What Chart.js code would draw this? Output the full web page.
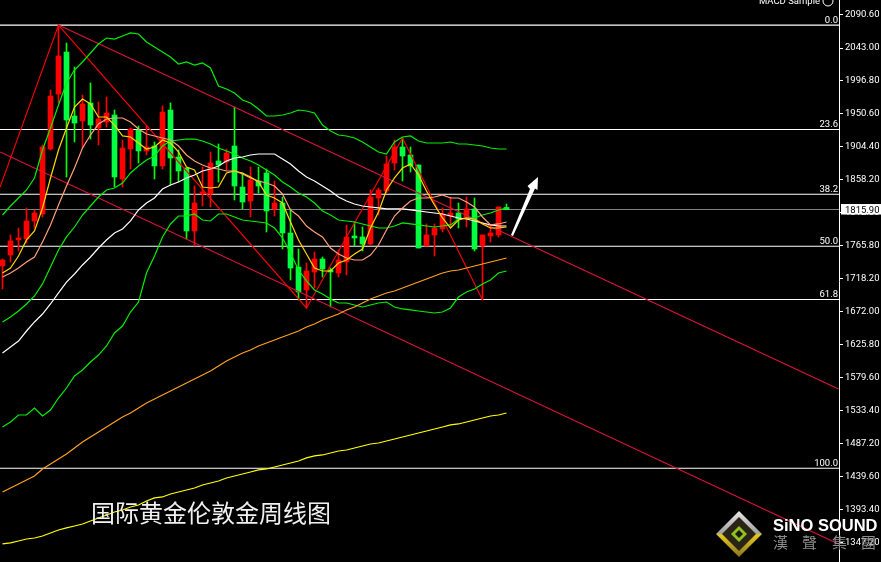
<!DOCTYPE html>
<html>
<head>
<meta charset="utf-8">
<style>
  html, body { margin: 0; padding: 0; background: #000; overflow: hidden; }
  canvas { display: block; }
</style>
<script src="https://cdn.jsdelivr.net/npm/chart.js@4/dist/chart.umd.min.js"></script>
</head>
<body>
<canvas id="goldChart" width="881" height="562"></canvas>
<script>
// weekly candles, one per bar index
let opens = [1736.5,1752.0,1773.1,1774.5,1799.8,1809.7,1901.1,1978.4,2037.5,1947.5,1940.5,1965.8,1930.6,1939.1,1948.9,1858.9,1901.1,1927.8,1898.3,1905.3,1877.2,1955.9,1889.8,1874.3,1785.7,1837.8,1837.8,1884.2,1882.8,1905.3,1847.6,1827.9,1856.1,1867.3,1816.7,1825.1,1782.9,1735.0,1702.7,1728.0,1746.3,1730.8,1726.6,1742.1,1778.7,1777.3,1767.4,1832.1,1842.0,1881.4,1903.9,1892.6,1878.6,1764.6,1780.1,1788.5,1806.8,1811.0,1804.0,1816.7,1764.6,1778.7,1780.1,1818.8];
let closes = [1744.9,1771.7,1775.9,1799.8,1811.0,1903.9,1975.6,2031.9,1941.9,1937.6,1964.4,1934.8,1943.3,1951.7,1861.7,1902.5,1929.2,1898.3,1903.9,1877.2,1953.1,1888.4,1870.1,1785.7,1825.1,1840.6,1881.4,1878.6,1895.4,1849.0,1826.5,1857.5,1849.0,1813.9,1825.1,1782.9,1733.6,1699.9,1729.4,1746.3,1732.2,1728.0,1744.9,1777.3,1775.9,1767.4,1833.5,1843.4,1880.0,1903.9,1891.2,1877.2,1761.8,1780.1,1789.9,1809.6,1811.0,1802.6,1816.7,1760.4,1780.1,1782.9,1819.5,1815.9];
let highs = [1746.3,1780.1,1789.9,1818.1,1815.3,1906.7,1984.1,2075.5,2050.2,2016.4,1977.0,1993.9,1967.2,1974.2,1955.9,1913.7,1930.6,1933.4,1933.4,1910.9,1961.6,1965.8,1899.7,1874.3,1849.0,1875.7,1896.9,1908.1,1901.1,1960.2,1867.3,1875.7,1875.7,1872.9,1856.1,1833.5,1816.7,1760.4,1740.7,1756.2,1749.1,1733.6,1759.0,1794.1,1798.4,1791.3,1843.4,1846.2,1891.2,1913.7,1916.5,1903.9,1878.6,1795.6,1795.6,1818.1,1833.5,1825.1,1833.5,1832.1,1780.1,1794.1,1819.5,1823.7];
let lows = [1704.1,1742.1,1757.6,1768.8,1789.9,1805.4,1899.7,1965.8,1861.7,1910.9,1902.5,1915.1,1906.7,1932.0,1847.6,1847.6,1872.9,1881.4,1892.6,1858.9,1872.9,1850.4,1854.6,1774.5,1764.6,1820.9,1819.5,1854.6,1871.5,1829.3,1816.7,1805.4,1839.2,1784.3,1806.8,1760.4,1716.8,1688.6,1677.4,1705.5,1720.9,1678.8,1720.9,1723.8,1764.6,1757.6,1766.0,1808.2,1839.2,1871.5,1856.1,1868.7,1761.8,1764.6,1750.5,1784.3,1791.3,1789.9,1791.3,1757.6,1688.6,1770.2,1777.3,1815.9];

// bollinger bands
let bandUpper = [1808.2,1820.9,1832.1,1843.4,1860.3,1899.7,1930.6,1963.0,1993.9,2012.2,2023.5,2036.1,2048.8,2057.2,2055.8,2060.1,2064.3,2062.9,2051.6,2044.6,2037.5,2030.5,2020.7,2023.5,2019.2,2022.1,2015.0,1989.7,1985.5,1979.9,1970.0,1965.8,1957.3,1947.5,1947.5,1948.9,1951.7,1955.9,1954.5,1951.7,1934.8,1926.4,1920.8,1919.4,1916.6,1910.9,1903.9,1896.9,1894.0,1910.9,1918.0,1919.4,1912.3,1909.5,1909.5,1909.5,1910.9,1908.1,1908.1,1906.7,1905.3,1902.5,1901.1,1901.1];
let bandMiddle = [1657.7,1664.7,1673.1,1683.0,1694.3,1711.2,1735.0,1759.0,1777.3,1791.3,1808.2,1820.9,1833.5,1843.4,1846.2,1853.2,1867.3,1877.2,1885.6,1891.2,1905.3,1912.3,1913.7,1915.1,1915.1,1912.3,1908.1,1902.5,1898.3,1894.0,1888.4,1884.2,1878.6,1871.5,1864.5,1854.6,1847.6,1839.2,1833.5,1825.1,1813.9,1808.2,1801.2,1799.8,1798.4,1795.6,1792.7,1789.9,1789.9,1792.7,1797.0,1795.6,1794.2,1792.7,1791.3,1792.7,1794.2,1802.6,1804.0,1804.0,1808.2,1811.0,1815.3,1818.1];
let bandLower = [1509.9,1517.0,1526.8,1526.8,1536.7,1525.4,1533.9,1550.7,1564.8,1581.7,1590.1,1601.4,1611.2,1623.9,1642.2,1652.0,1671.7,1685.8,1726.6,1750.5,1777.3,1795.6,1806.8,1806.8,1809.6,1801.2,1799.8,1809.6,1809.6,1805.4,1801.2,1799.8,1798.4,1797.0,1789.9,1775.9,1754.8,1730.8,1715.4,1702.7,1697.1,1690.0,1684.4,1684.4,1681.6,1678.8,1681.6,1684.4,1685.8,1678.8,1676.0,1674.6,1673.1,1671.7,1670.3,1671.7,1677.4,1692.8,1699.9,1704.1,1711.2,1716.8,1726.6,1729.4];

// moving averages, fast to slow
let maGold = [1726.6,1733.6,1750.5,1773.1,1785.7,1818.1,1860.3,1899.7,1930.6,1960.2,1971.4,1964.4,1946.1,1946.1,1934.8,1919.4,1918.0,1909.5,1901.1,1903.9,1913.7,1909.5,1896.9,1875.7,1871.5,1847.6,1846.2,1847.6,1867.3,1870.1,1867.3,1861.7,1854.6,1836.4,1832.1,1825.1,1798.4,1773.1,1753.4,1733.6,1729.4,1729.4,1740.7,1744.9,1753.4,1760.4,1789.9,1812.4,1843.4,1860.3,1874.3,1880.0,1864.5,1842.0,1822.3,1804.0,1789.9,1801.2,1804.0,1802.6,1795.6,1789.9,1789.9,1791.3];
let maSalmon = [1721.0,1726.6,1733.6,1742.1,1749.1,1770.2,1794.2,1822.3,1849.0,1874.3,1902.5,1920.8,1936.2,1943.3,1944.7,1944.7,1939.1,1929.2,1922.2,1919.4,1916.6,1913.7,1905.3,1892.6,1884.2,1878.6,1874.3,1872.9,1870.1,1870.1,1865.9,1860.3,1856.1,1853.2,1849.0,1837.8,1815.3,1806.8,1792.7,1784.3,1777.3,1761.8,1753.4,1747.7,1744.9,1744.9,1751.9,1766.0,1787.1,1806.8,1818.1,1827.9,1832.1,1832.1,1833.5,1836.4,1832.1,1832.1,1826.5,1819.5,1805.4,1794.2,1795.6,1798.4];
let maWhite = [1614.1,1622.5,1630.9,1645.0,1657.7,1668.9,1683.0,1698.5,1713.9,1725.2,1737.9,1749.1,1761.8,1773.1,1782.9,1788.5,1799.8,1815.3,1825.1,1832.1,1844.8,1850.4,1854.6,1860.3,1864.5,1870.1,1872.9,1877.2,1884.2,1888.4,1889.8,1892.6,1894.0,1894.0,1894.0,1887.0,1880.0,1870.1,1861.7,1856.1,1849.0,1842.0,1833.5,1827.9,1823.7,1820.9,1819.5,1818.1,1816.7,1816.7,1816.7,1815.3,1813.9,1812.4,1811.0,1809.6,1806.8,1804.0,1802.6,1799.8,1797.0,1794.2,1792.7,1792.7];
let maOrange = [1418.5,1424.1,1429.7,1435.4,1441.0,1450.9,1457.9,1464.9,1472.0,1480.4,1488.8,1495.9,1502.9,1509.9,1517.0,1524.0,1529.6,1536.7,1543.7,1549.3,1555.0,1560.6,1566.2,1571.9,1577.5,1583.1,1588.7,1595.8,1602.8,1608.4,1614.1,1618.3,1623.9,1628.1,1632.4,1636.6,1640.8,1645.0,1650.6,1654.9,1660.5,1664.7,1668.9,1674.6,1678.8,1684.4,1690.0,1694.3,1698.5,1701.3,1705.5,1709.7,1713.9,1718.2,1722.4,1726.6,1729.4,1730.8,1733.6,1736.5,1739.3,1742.1,1744.9,1747.7];
let maYellow = [1345.4,1346.8,1349.6,1352.4,1353.8,1356.6,1360.8,1365.0,1367.9,1370.7,1373.5,1377.7,1381.9,1386.1,1390.4,1393.2,1397.4,1400.2,1405.8,1410.1,1411.5,1415.7,1418.5,1421.3,1424.1,1428.4,1431.2,1434.0,1438.2,1441.0,1443.8,1446.6,1449.5,1450.9,1453.7,1456.5,1459.3,1462.1,1466.4,1469.2,1470.6,1473.4,1476.2,1477.6,1480.4,1483.2,1486.0,1487.4,1490.3,1493.1,1495.9,1498.7,1501.5,1504.3,1507.1,1509.9,1512.8,1514.2,1517.0,1519.8,1522.6,1525.4,1526.8,1529.6];

// zigzag and the two channel lines: bar index, price
let zigzagBars = [-0.3, 7, 38, 50, 60];
let zigzagPrices = [1847.6, 2075.5, 1677.4, 1916.5, 1688.6];
let channelTopBars = [7, 104.5];
let channelTopPrices = [2075.5, 1563.4];
let channelLowBars = [-0.3, 104.5];
let channelLowPrices = [1896.9, 1345.4];

// fibonacci levels
let fibNames = ['0.0', '23.6', '38.2', '50.0', '61.8', '100.0'];
let fibPrices = [2075.3, 1928.6, 1837.3, 1764.2, 1689.4, 1451.8];

let lastPrice = 1815.90;
let tickValues = [2090.60,2043.00,1996.80,1950.60,1904.40,1858.20,1812.00,1765.80,1718.20,1672.00,1625.80,1579.60,1533.40,1487.20,1439.60,1393.40,1347.20];

const XMIN = -0.3125, XMAX = 104.5625;
const RED = '#ff0000', GREEN = '#00ff40', LIME = '#00f000';
const AXIS_FONT = '9.5px Roboto, "Liberation Sans", sans-serif';

let bars = opens.map((o, i) => i);
let candleColors = opens.map((o, i) => closes[i] >= o ? RED : GREEN);
let wickColors = opens.map((o, i) => closes[i] >= o ? RED : '#00ff00');

function lineSet(values, color, order) {
    return {
        type: 'line',
        data: values.map((v, i) => ({x: i, y: v})),
        borderColor: color,
        borderWidth: 1.2,
        pointRadius: 0,
        tension: 0,
        order: order
    };
}

function pathSet(xs, ys, color, order) {
    return {
        type: 'line',
        data: xs.map((x, i) => ({x: x, y: ys[i]})),
        borderColor: color,
        borderWidth: 1.1,
        pointRadius: 0,
        tension: 0,
        order: order
    };
}

let datasets = [];

// levels sit behind the candles
fibPrices.forEach(p => datasets.push(pathSet([XMIN, XMAX], [p, p], '#ffffff', 9)));
datasets.push(pathSet([XMIN, XMAX], [lastPrice, lastPrice], '#808080', 9));

datasets.push({
    type: 'bar',
    data: bars.map(i => ({x: i, y: [lows[i], highs[i]]})),
    backgroundColor: wickColors,
    barThickness: 1,
    grouped: false,
    order: 8
});
datasets.push({
    type: 'bar',
    data: bars.map(i => ({x: i, y: [opens[i], closes[i]]})),
    backgroundColor: candleColors,
    barThickness: 5,
    grouped: false,
    order: 7
});

datasets.push(pathSet(zigzagBars, zigzagPrices, RED, 6));
datasets.push(pathSet(channelTopBars, channelTopPrices, '#dc143c', 6));
datasets.push(pathSet(channelLowBars, channelLowPrices, '#dc143c', 6));

datasets.push(lineSet(bandUpper, LIME, 5));
datasets.push(lineSet(bandMiddle, LIME, 5));
datasets.push(lineSet(bandLower, LIME, 5));
datasets.push(lineSet(maYellow, '#ffff00', 4));
datasets.push(lineSet(maOrange, '#ffa020', 4));
datasets.push(lineSet(maWhite, '#ffffff', 3));
datasets.push(lineSet(maSalmon, '#ffa07a', 2));
datasets.push(lineSet(maGold, '#ffd700', 1));

// fib names, last price box, arrow, caption, logo
const extras = {
    id: 'extras',
    afterDraw(chart) {
        let ctx = chart.ctx;
        let yAxis = chart.scales.y;

        ctx.save();
        ctx.font = AXIS_FONT;
        ctx.fillStyle = '#ffffff';
        ctx.textAlign = 'right';
        ctx.textBaseline = 'alphabetic';
        fibPrices.forEach((p, i) => {
            ctx.fillText(fibNames[i], 838, Math.round(yAxis.getPixelForValue(p)) - 2);
        });

        // indicator name, cut off by the top of the window
        ctx.fillText('MACD Sample', 820, 4);
        ctx.strokeStyle = '#ffffff';
        ctx.beginPath();
        ctx.arc(828, 1, 5, 0, Math.PI * 2);
        ctx.stroke();

        // last price on the axis
        let yLast = yAxis.getPixelForValue(lastPrice);
        ctx.fillStyle = '#ffffff';
        ctx.fillRect(841, yLast - 5.5, 40, 10.5);
        ctx.fillStyle = '#000000';
        ctx.textAlign = 'left';
        ctx.fillText(lastPrice.toFixed(2), 845, yLast + 3.5);

        // white arrow
        ctx.fillStyle = '#ffffff';
        ctx.beginPath();
        ctx.moveTo(511, 235);
        ctx.lineTo(530, 189);
        ctx.lineTo(527.5, 186);
        ctx.lineTo(538, 177);
        ctx.lineTo(537.5, 190);
        ctx.lineTo(535, 188.5);
        ctx.lineTo(513, 236);
        ctx.closePath();
        ctx.fill();

        ctx.font = '24px "Noto Sans CJK SC"';
        ctx.fillStyle = '#f0f0f0';
        ctx.textAlign = 'left';
        ctx.fillText('国际黄金伦敦金周线图', 91, 522);

        drawLogo(ctx);
        ctx.restore();
    }
};

function diamond(ctx, cx, cy, r, color) {
    ctx.fillStyle = color;
    ctx.beginPath();
    ctx.moveTo(cx, cy - r);
    ctx.lineTo(cx + r, cy);
    ctx.lineTo(cx, cy + r);
    ctx.lineTo(cx - r, cy);
    ctx.closePath();
    ctx.fill();
}

function drawLogo(ctx) {
    let cx = 739, cy = 534;
    let metal = ctx.createLinearGradient(0, cy - 23, 0, cy + 23);
    metal.addColorStop(0, '#e8e8e8');
    metal.addColorStop(0.48, '#a0a0a0');
    metal.addColorStop(0.52, '#e8c820');
    metal.addColorStop(1, '#8a7420');
    diamond(ctx, cx, cy, 23, metal);
    diamond(ctx, cx, cy, 17, '#2a2416');
    diamond(ctx, cx, cy, 8, '#8fc31f');
    diamond(ctx, cx, cy, 4, '#1a1a10');

    ctx.fillStyle = '#ffffff';
    ctx.textAlign = 'left';
    ctx.font = 'bold 16.5px "Liberation Sans", sans-serif';
    ctx.fillText('SiNO SOUND', 773, 531);
    ctx.fillStyle = '#8c8c8c';
    ctx.font = '15px "Noto Sans CJK TC"';
    ctx.fillText('漢', 773, 548);
    ctx.fillText('聲', 802, 548);
    ctx.fillText('集', 832, 548);
    ctx.fillText('團', 861, 548);
}

new Chart(document.getElementById('goldChart').getContext('2d'), {
    data: {datasets: datasets},
    plugins: [extras],
    options: {
        responsive: false,
        animation: false,
        devicePixelRatio: 1,
        layout: {padding: 0},
        plugins: {
            legend: {display: false},
            title: {display: false},
            tooltip: {enabled: false}
        },
        scales: {
            x: {
                type: 'linear',
                display: false,
                offset: false,
                min: XMIN,
                max: XMAX
            },
            y: {
                type: 'linear',
                position: 'right',
                min: 1320.0,
                max: 2110.7,
                afterBuildTicks(scale) {
                    scale.ticks = tickValues.map(v => ({value: v}));
                },
                afterFit(scale) {
                    scale.width = 42;
                    scale.paddingTop = 0;
                    scale.paddingBottom = 0;
                },
                grid: {
                    drawOnChartArea: false,
                    drawTicks: true,
                    tickLength: 4,
                    color: '#ffffff'
                },
                border: {color: '#ffffff', width: 1},
                ticks: {
                    autoSkip: false,
                    color: '#ffffff',
                    padding: 2,
                    font: {family: 'Roboto, "Liberation Sans", sans-serif', size: 9.5},
                    callback: v => v.toFixed(2)
                }
            }
        }
    }
});
</script>
</body>
</html>
